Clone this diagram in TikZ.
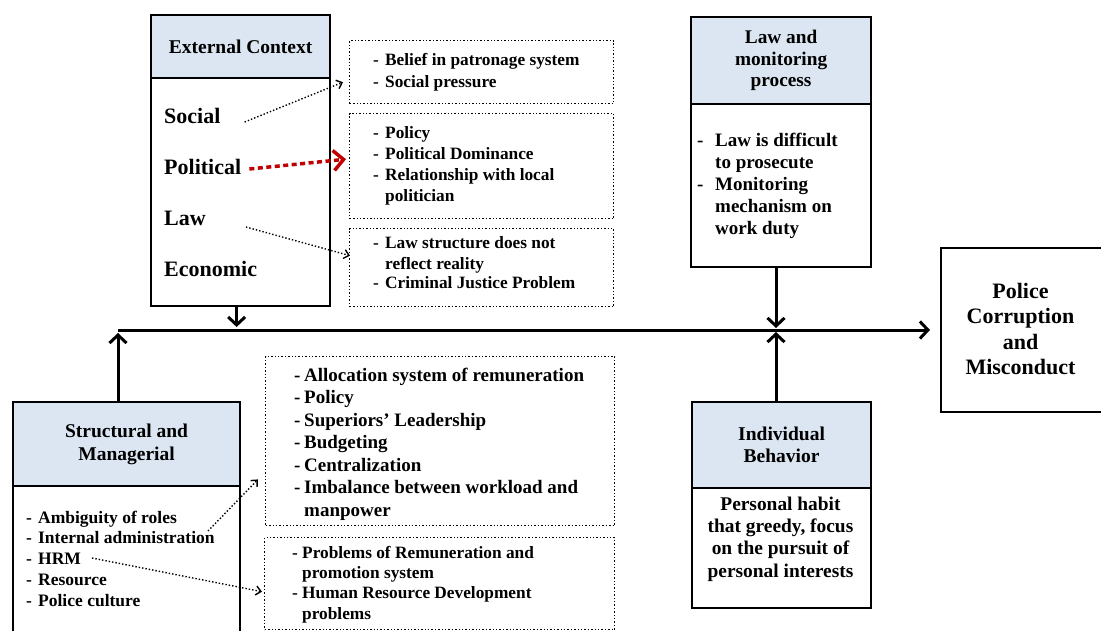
\documentclass[tikz,border=0pt]{standalone}
\usepackage{fontspec}
\setmainfont{Liberation Serif}
\usetikzlibrary{arrows.meta,calc}
\definecolor{headblue}{RGB}{220,230,242}
\definecolor{arrowred}{RGB}{192,0,0}
\newcommand{\fz}[2]{\fontsize{#1}{#2}\selectfont\bfseries}
\newcommand{\bl}[1]{\makebox[#1][l]{-}}
\tikzset{
  solidbox/.style={draw, line width=2.2pt, fill=white, inner sep=0pt, anchor=north west},
  headbox/.style={solidbox, fill=headblue, align=center},
  dotbox/.style={draw, line width=1.4pt, dotted, inner sep=0pt, anchor=north west},
  % lists are placed by the baseline of their last line
  listtext/.style={inner sep=0pt, anchor=base west, align=left},
  midtext/.style={inner sep=0pt, align=center},
  flow/.style={line width=3pt, -{Straight Barb[length=8pt,width=17pt,line width=3pt]}},
  dotarrow/.style={line width=1.4pt, dotted, -{Straight Barb[length=5pt,width=9pt,line width=1.4pt]}},
  redarrow/.style={draw=arrowred, line width=3.5pt, dash pattern=on 5pt off 3.5pt,
    -{Straight Barb[length=10pt,width=20pt,line width=3.5pt,color=arrowred]}}
}
\begin{document}
\begin{tikzpicture}[x=1pt,y=-1pt]
\useasboundingbox (0,0) rectangle (1101,631);

% ---- External context
\node[solidbox, minimum width=179pt, minimum height=291pt] (ext) at (150,14) {};
\node[headbox, minimum width=179pt, minimum height=63pt, font=\fz{19.5}{22}] (exth) at (150,14) {External Context};
\node[inner sep=0pt, anchor=west, font=\fz{22}{25}] (social) at (164,116) {Social};
\node[inner sep=0pt, anchor=west, font=\fz{22}{25}] (political) at (164,167) {Political};
\node[inner sep=0pt, anchor=west, font=\fz{22}{25}] (law) at (164,218) {Law};
\node[inner sep=0pt, anchor=west, font=\fz{22}{25}] (economic) at (164,269) {Economic};

% ---- dotted detail boxes, top
\node[dotbox, minimum width=264pt, minimum height=63pt] (d1) at (349,40) {};
\node[dotbox, minimum width=264pt, minimum height=105pt] (d2) at (349,113) {};
\node[dotbox, minimum width=264pt, minimum height=78pt] (d3) at (349,228) {};
\node[listtext, font=\fz{17.3}{22}] (t1) at (373,88)
  {\bl{12pt}Belief in patronage system\\ \bl{12pt}Social pressure};
\node[listtext, font=\fz{17.3}{21}] (t2) at (373,202)
  {\bl{12pt}Policy\\ \bl{12pt}Political Dominance\\ \bl{12pt}Relationship with local\\ \hspace*{12pt}politician};
\node[listtext, font=\fz{17.3}{20}] (t3) at (373,289)
  {\bl{12pt}Law structure does not\\ \hspace*{12pt}reflect reality\\ \bl{12pt}Criminal Justice Problem};

% ---- Law and monitoring process
\node[solidbox, minimum width=180pt, minimum height=250pt] (lawbox) at (690,16) {};
\node[headbox, minimum width=180pt, minimum height=87pt, font=\fz{19.3}{21.5}] (lawh) at (690,16)
  {Law and\\ monitoring\\ process};
\node[listtext, font=\fz{19}{22}] (t4) at (697,235)
  {\bl{18pt}Law is difficult\\ \hspace*{18pt}to prosecute\\ \bl{18pt}Monitoring\\ \hspace*{18pt}mechanism on\\ \hspace*{18pt}work duty};

% ---- Police corruption and misconduct
\node[solidbox, minimum width=170pt, minimum height=164pt] (police) at (940,247) {};
\node[midtext, font=\fz{22}{25.3}] (policet) at (1020.5,329)
  {Police\\ Corruption\\ and\\ Misconduct};

% ---- Structural and managerial
\node[solidbox, minimum width=227pt, minimum height=250pt] (struct) at (12,401) {};
\node[headbox, minimum width=227pt, minimum height=84pt, font=\fz{19.5}{23}] (structh) at (12,401)
  {Structural and\\ Managerial};
\node[listtext, font=\fz{17.5}{20.75}] (t5) at (26,606)
  {\bl{12pt}Ambiguity of roles\\ \bl{12pt}Internal administration\\ \bl{12pt}HRM\\ \bl{12pt}Resource\\ \bl{12pt}Police culture};

% ---- dotted detail boxes, bottom
\node[dotbox, minimum width=349pt, minimum height=169pt] (d4) at (265,356) {};
\node[dotbox, minimum width=350pt, minimum height=92pt] (d5) at (264,537) {};
\node[listtext, font=\fz{19}{22.5}] (t6) at (294,516)
  {\bl{10pt}Allocation system of remuneration\\ \bl{10pt}Policy\\ \bl{10pt}Superiors' Leadership\\ \bl{10pt}Budgeting\\ \bl{10pt}Centralization\\ \bl{10pt}Imbalance between workload and\\ \hspace*{10pt}manpower};
\node[listtext, font=\fz{17.3}{20.3}] (t7) at (292,619)
  {\bl{10pt}Problems of Remuneration and\\ \hspace*{10pt}promotion system\\ \bl{10pt}Human Resource Development\\ \hspace*{10pt}problems};

% ---- Individual behavior
\node[solidbox, minimum width=179pt, minimum height=206pt] (indiv) at (691,401) {};
\node[headbox, minimum width=179pt, minimum height=86pt, font=\fz{19.5}{22}] (indivh) at (691,401)
  {Individual\\ Behavior};
\node[midtext, font=\fz{19.4}{22.3}] (indivt) at (780.5,539)
  {Personal habit\\ that greedy, focus\\ on the pursuit of\\ personal interests};

% ---- main flow line
\coordinate (j1) at (118,330);
\coordinate (j2) at (776,330);
\draw[flow, shorten >=10pt] (j1) -- (j1 -| police.west);
\draw[flow] (struct.north -| j1) -- ($(j1)+(0,3)$);
\draw[flow] ($(ext.south)+(-4,0)$) -- ($(ext.south |- j1)+(-4,-3)$);
\draw[flow] (lawbox.south -| j2) -- ($(j2)+(0,-2)$);
\draw[flow] (indiv.north -| j2) -- ($(j2)+(0,2)$);

% ---- dotted links to detail boxes
\coordinate (adm) at (208,531);
\coordinate (hrm) at (92,558);
\draw[dotarrow] ($(social.east)+(24,6)$) -- ($(d1.west)+(-6,10)$);
\draw[redarrow] ($(political.east)+(8,2)$) -- ($(d2.west)+(-3,-7)$);
\draw[dotarrow] ($(law.east)+(40,9)$) -- ($(d3.west)+(1,-12)$);
\draw[dotarrow] (adm) -- ($(d4.south west)+(-7,-47)$);
\draw[dotarrow] (hrm) -- ($(d5.west)+(-2,8)$);
\end{tikzpicture}
\end{document}
